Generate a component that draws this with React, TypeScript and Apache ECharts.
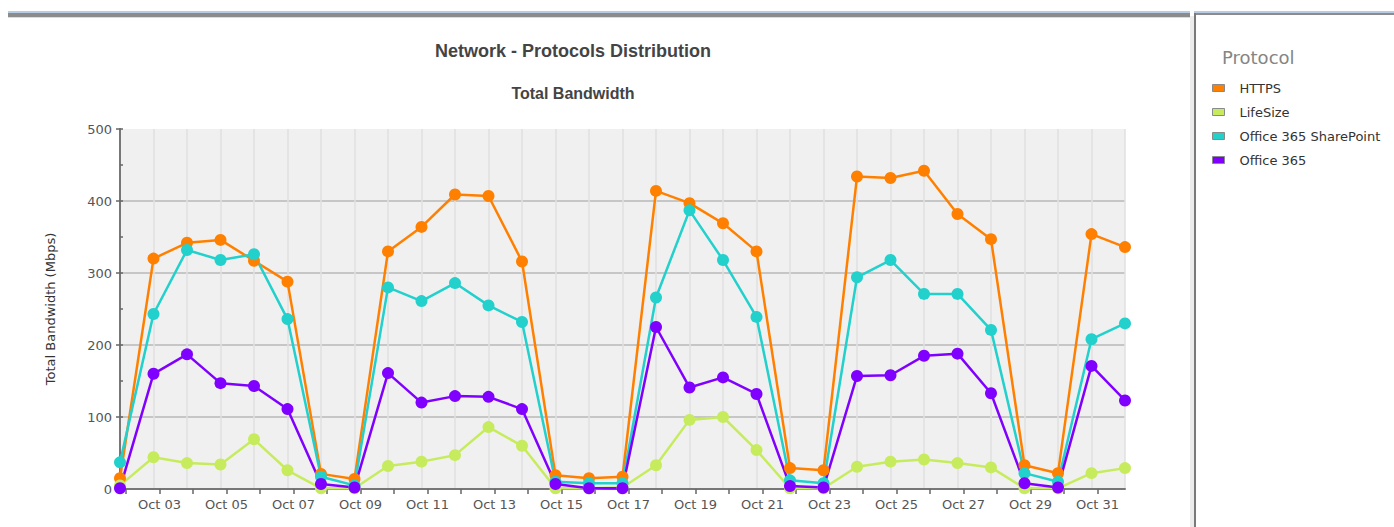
import React, { useEffect, useRef } from "react";
import * as echarts from "echarts";

// Data points (one per day, displayed in local time ~20:00 of each date)
const dates = [
  "Oct 01", "Oct 02", "Oct 03", "Oct 04", "Oct 05", "Oct 06", "Oct 07", "Oct 08",
  "Oct 09", "Oct 10", "Oct 11", "Oct 12", "Oct 13", "Oct 14", "Oct 15", "Oct 16",
  "Oct 17", "Oct 18", "Oct 19", "Oct 20", "Oct 21", "Oct 22", "Oct 23", "Oct 24",
  "Oct 25", "Oct 26", "Oct 27", "Oct 28", "Oct 29", "Oct 30", "Oct 31",
];
// Midnight tick labels (Oct 02 .. Oct 31)
const tickLabels = dates.slice(1);

const seriesNames = ["HTTPS", "LifeSize", "Office 365 SharePoint", "Office 365"];
const seriesColors = ["#ff8000", "#c6ec5e", "#22d0cc", "#8000ff"];

const https = [15, 320, 342, 346, 317, 288, 21, 14, 330, 364, 409, 407, 316, 19, 15, 17, 414, 397, 369, 330, 29, 26, 434, 432, 442, 382, 347, 33, 22, 354, 336];
const lifeSize = [5, 44, 36, 34, 69, 26, 1, 1, 32, 38, 47, 86, 60, 1, 1, 2, 33, 96, 100, 54, 1, 1, 31, 38, 41, 36, 30, 1, 1, 22, 29];
const sharePoint = [37, 243, 332, 318, 326, 236, 17, 5, 280, 261, 286, 255, 232, 10, 8, 8, 266, 387, 318, 239, 12, 8, 294, 318, 271, 271, 221, 22, 10, 208, 230];
const office365 = [1, 160, 187, 147, 143, 111, 7, 2, 161, 120, 129, 128, 111, 7, 1, 1, 225, 141, 155, 132, 4, 2, 157, 158, 185, 188, 133, 8, 2, 171, 123];

const seriesValues = [https, lifeSize, sharePoint, office365];

const FONT = "DejaVu Sans";

export default function App() {
  const ref = useRef<HTMLDivElement>(null);

  useEffect(() => {
    document.body.style.margin = "0";
    if (!ref.current) return;
    const chart = echarts.init(ref.current, undefined, { renderer: "svg" });

    const option: any = {
      animation: false,
      backgroundColor: "#ffffff",
      title: [
        {
          text: "Network - Protocols Distribution",
          left: 573,
          top: 42,
          textAlign: "center",
          padding: 0,
          textStyle: { fontFamily: "Liberation Sans", fontSize: 18, fontWeight: "bold", color: "#444" },
        },
        {
          text: "Total Bandwidth",
          left: 573,
          top: 85,
          textAlign: "center",
          padding: 0,
          textStyle: { fontFamily: "Liberation Sans", fontSize: 16, fontWeight: "bold", color: "#444" },
        },
      ],
      legend: {
        orient: "vertical",
        left: 1212,
        top: 80,
        padding: 0,
        icon: "rect",
        itemWidth: 12,
        itemHeight: 7,
        itemGap: 8,
        selectedMode: false,
        itemStyle: { borderColor: "#8a8a8a", borderWidth: 1 },
        textStyle: { fontFamily: FONT, fontSize: 13, color: "#333", lineHeight: 16, padding: [0, 0, 0, 10] },
        data: seriesNames,
      },
      graphic: [
        { type: "rect", silent: true, shape: { x: 8, y: 11, width: 1182, height: 2 }, style: { fill: "#b8cde4" } },
        { type: "rect", silent: true, shape: { x: 8, y: 13, width: 1182, height: 4 }, style: { fill: "#8c8c8c" } },
        { type: "rect", silent: true, shape: { x: 8, y: 17, width: 1182, height: 1 }, style: { fill: "#dcdcdc" } },
        { type: "rect", silent: true, shape: { x: 1194, y: 11, width: 200, height: 2 }, style: { fill: "#b8cde4" } },
        { type: "rect", silent: true, shape: { x: 1194, y: 13, width: 200, height: 2 }, style: { fill: "#8c8c8c" } },
        { type: "rect", silent: true, shape: { x: 1190, y: 16, width: 4, height: 511 }, style: { fill: "#ececec" } },
        { type: "rect", silent: true, shape: { x: 1194, y: 13, width: 2, height: 514 }, style: { fill: "#7a7a7a" } },
        {
          type: "text",
          silent: true,
          x: 1222,
          y: 57,
          style: { text: "Protocol", fontFamily: FONT, fontSize: 18, fill: "#858585", align: "left", verticalAlign: "middle" },
        },
      ],
      grid: [
        { left: 120, top: 129, width: 1005, height: 360, show: true, backgroundColor: "#f0f0f0", borderWidth: 0 },
        { left: 126, top: 129, width: 971.5, height: 360, show: false },
      ],
      xAxis: [
        {
          type: "category",
          gridIndex: 0,
          data: dates,
          boundaryGap: false,
          axisLine: { show: true, lineStyle: { color: "#777", width: 2 } },
          axisTick: { show: false },
          axisLabel: { show: false },
          splitLine: { show: true, interval: 0, lineStyle: { color: "#e0e0e0", width: 1.5 } },
        },
        {
          type: "value",
          gridIndex: 1,
          min: 0,
          max: tickLabels.length - 1,
          interval: 1,
          axisLine: { show: false },
          axisTick: { show: true, length: 5, lineStyle: { color: "#666", width: 1.5 } },
          axisLabel: {
            show: true,
            margin: 9,
            color: "#555",
            fontFamily: FONT,
            fontSize: 13,
            formatter: (v: number) => (Math.round(v) % 2 === 1 ? tickLabels[Math.round(v)] : ""),
          },
          splitLine: { show: false },
        },
      ],
      yAxis: [
        {
          type: "value",
          gridIndex: 0,
          min: 0,
          max: 500,
          interval: 100,
          position: "left",
          name: "Total Bandwidth (Mbps)",
          nameLocation: "middle",
          nameRotate: 90,
          nameGap: 63,
          nameTextStyle: { fontFamily: FONT, fontSize: 13, color: "#333" },
          axisLine: { show: true, lineStyle: { color: "#777", width: 2 } },
          axisTick: { show: true, length: 4, lineStyle: { color: "#666", width: 1.5 } },
          axisLabel: { margin: 8, color: "#555", fontFamily: FONT, fontSize: 13 },
          splitLine: { show: true, showMaxLine: false, showMinLine: false, lineStyle: { color: "#c6c6c6", width: 2 } },
        },
        {
          type: "value",
          gridIndex: 0,
          min: 0,
          max: 500,
          interval: 50,
          position: "left",
          axisLine: { show: false },
          axisTick: { show: true, inside: true, length: 3, lineStyle: { color: "#666", width: 1.5 } },
          axisLabel: { show: false },
          splitLine: { show: false },
        },
        {
          type: "value",
          gridIndex: 1,
          min: 0,
          max: 500,
          show: false,
        },
      ],
      series: seriesNames.map((name, k) => ({
        name,
        type: "line",
        xAxisIndex: 0,
        yAxisIndex: 0,
        data: seriesValues[k],
        color: seriesColors[k],
        symbol: "circle",
        symbolSize: 12,
        showAllSymbol: true,
        clip: false,
        lineStyle: { width: 2.5, color: seriesColors[k] },
        itemStyle: { color: seriesColors[k] },
      })),
    };

    chart.setOption(option);
    return () => chart.dispose();
  }, []);

  return <div ref={ref} style={{ width: 1394, height: 527 }} />;
}
